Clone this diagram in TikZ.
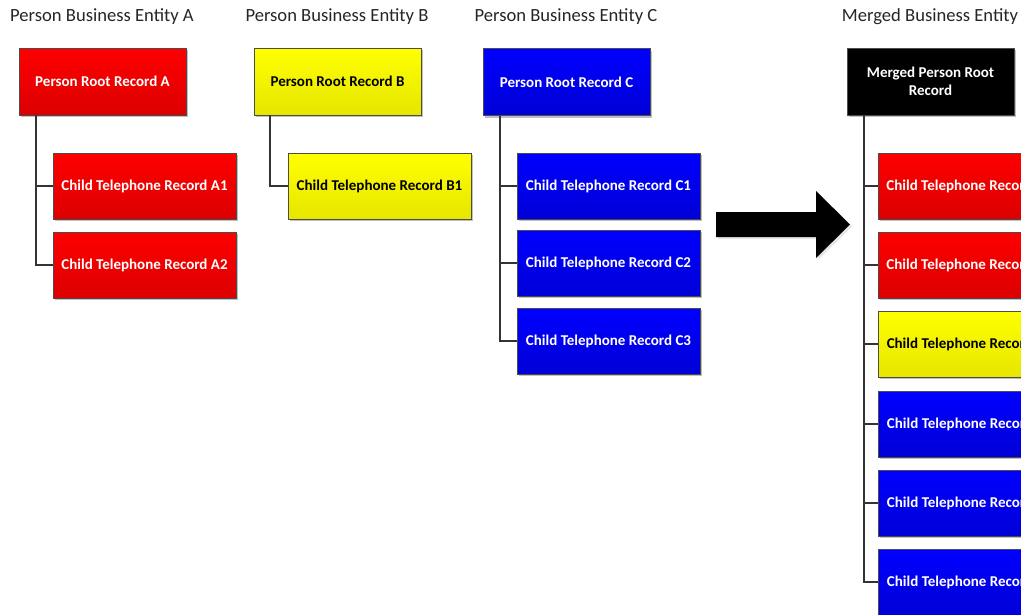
\documentclass[tikz,border=0pt]{standalone}
\usepackage{fontspec}
\setmainfont{Carlito}
\usetikzlibrary{shadows}
\begin{document}
\begin{tikzpicture}[x=1pt,y=-1pt,
  box/.style={draw=black!70, line width=0.8pt, minimum width=183pt, minimum height=66pt,
    inner sep=0pt, font=\fontsize{15}{17.5}\selectfont\bfseries, align=center,
    drop shadow={shadow xshift=2pt, shadow yshift=-2pt, opacity=0.25, fill=black}},
  rootbox/.style={box, minimum width=167pt, minimum height=67pt},
  redbox/.style={top color=red!100, bottom color={rgb,255:red,220;green,0;blue,0}, text=white},
  yellowbox/.style={top color={rgb,255:red,255;green,255;blue,0}, bottom color={rgb,255:red,230;green,230;blue,0}, text=black},
  bluebox/.style={top color={rgb,255:red,0;green,0;blue,255}, bottom color={rgb,255:red,0;green,0;blue,215}, text=white},
  blackbox/.style={fill=black, text=white},
  title/.style={font=\fontsize{18.6}{22}\selectfont, text=black!85, inner sep=0pt},
  link/.style={draw=black!80, line width=1.8pt}
]
\useasboundingbox (0,0) rectangle (1021,614);

% titles
\node[title] (tA) at (102,17) {Person Business Entity A};
\node[title] (tB) at (337,17) {Person Business Entity B};
\node[title] (tC) at (566,17) {Person Business Entity C};
\node[title] (tM) at (930,17) {Merged Business Entity};

% entity A
\node[rootbox, redbox] (rA) at (102.5,81.5) {Person Root Record A};
\node[box, redbox] (a1) at (144.5,186) {Child Telephone Record A1};
\node[box, redbox] (a2) at (144.5,265) {Child Telephone Record A2};

% entity B
\node[rootbox, yellowbox] (rB) at (337.5,81.5) {Person Root Record B};
\node[box, yellowbox] (b1) at (379.5,186) {Child Telephone Record B1};

% entity C
\node[rootbox, bluebox] (rC) at (566.5,82) {Person Root Record C};
\node[box, bluebox] (c1) at (608.5,186) {Child Telephone Record C1};
\node[box, bluebox] (c2) at (608.5,263) {Child Telephone Record C2};
\node[box, bluebox] (c3) at (608.5,341) {Child Telephone Record C3};

% merged
\node[rootbox, blackbox] (rM) at (930.5,81.5) {Merged Person Root\\Record};
\node[box, redbox] (m1) at (969.5,186) {Child Telephone Record A1};
\node[box, redbox] (m2) at (969.5,265) {Child Telephone Record A2};
\node[box, yellowbox] (m3) at (969.5,344) {Child Telephone Record B1};
\node[box, bluebox] (m4) at (969.5,424) {Child Telephone Record C1};
\node[box, bluebox] (m5) at (969.5,503) {Child Telephone Record C2};
\node[box, bluebox] (m6) at (969.5,582) {Child Telephone Record C3};

% connectors
\foreach \c in {a1,a2} \draw[link] ([xshift=17pt]rA.south west) |- (\c.west);
\draw[link] ([xshift=16pt]rB.south west) |- (b1.west);
\foreach \c in {c1,c2,c3} \draw[link] ([xshift=17pt]rC.south west) |- (\c.west);
\foreach \c in {m1,m2,m3,m4,m5,m6} \draw[link] ([xshift=17pt]rM.south west) |- (\c.west);

% big arrow
\fill[black, drop shadow={shadow xshift=2pt, shadow yshift=-2pt, opacity=0.2}]
  (716,212) -- (816,212) -- (816,191) -- (850,224.5) -- (816,258) -- (816,237) -- (716,237) -- cycle;
\end{tikzpicture}
\end{document}
